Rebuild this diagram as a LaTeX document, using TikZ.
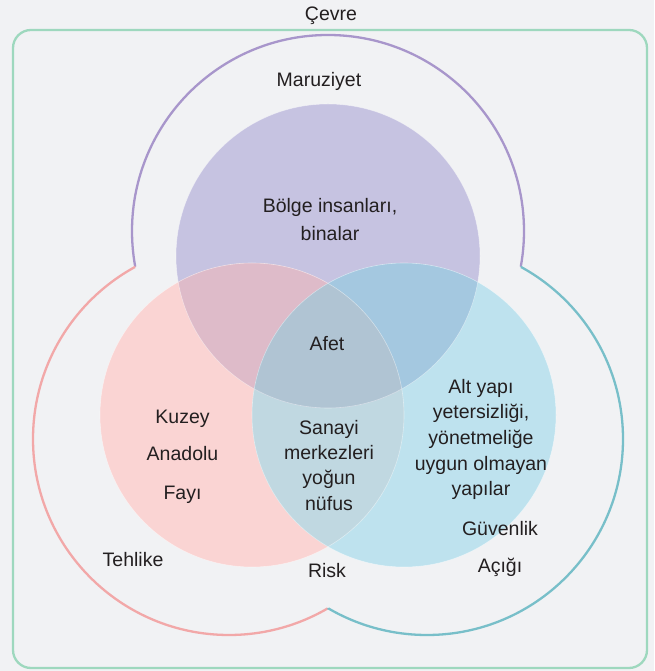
\documentclass[tikz,border=0pt]{standalone}
\usepackage{fontspec}
\setmainfont{Liberation Sans}
\definecolor{bg}{HTML}{F1F2F4}
\definecolor{rectc}{HTML}{9ED8BE}
\definecolor{purl}{HTML}{A896CB}
\definecolor{pinkl}{HTML}{F2A8A8}
\definecolor{bluel}{HTML}{78BFC9}
\definecolor{pu}{HTML}{C6C3E1}
\definecolor{pk}{HTML}{FAD4D3}
\definecolor{bl}{HTML}{BEE2EE}
\definecolor{pupk}{HTML}{DEBBC9}
\definecolor{publ}{HTML}{A4C8E0}
\definecolor{pkbl}{HTML}{C0D8E1}
\definecolor{allc}{HTML}{B0C4D3}
\definecolor{txt}{HTML}{231F20}
\begin{document}
\begin{tikzpicture}[x=1pt,y=1pt,
  lbl/.style={inner sep=0pt, anchor=base, text=txt, font=\fontsize{19.5}{23}\selectfont},
  outline/.style={line width=2.3pt},
  edgeline/.style={draw=white, draw opacity=0.45, line width=0.6pt}]
\fill[bg] (0,0) rectangle (654,671);
\useasboundingbox (0,0) rectangle (654,671);
% frame
\draw[rectc, outline, rounded corners=18pt] (13,3) rectangle (647,641);
% centres
\coordinate (cpo) at (328,440);
\coordinate (cko) at (229,232);
\coordinate (cbo) at (427,232);
\coordinate (cp) at (328,415);
\coordinate (ck) at (252,256);
\coordinate (cb) at (404,256);
% outer union outline
\begin{scope}[even odd rule]
  \clip (0,0) rectangle (654,671) (cko) circle[radius=196];
  \clip (0,0) rectangle (654,671) (cbo) circle[radius=196];
  \draw[purl, outline] (cpo) circle[radius=196];
\end{scope}
\begin{scope}[even odd rule]
  \clip (0,0) rectangle (654,671) (cpo) circle[radius=196];
  \clip (0,0) rectangle (654,671) (cbo) circle[radius=196];
  \draw[pinkl, outline] (cko) circle[radius=196];
\end{scope}
\begin{scope}[even odd rule]
  \clip (0,0) rectangle (654,671) (cpo) circle[radius=196];
  \clip (0,0) rectangle (654,671) (cko) circle[radius=196];
  \draw[bluel, outline] (cbo) circle[radius=196];
\end{scope}
% inner circles
\fill[pu] (cp) circle[radius=152];
\fill[pk] (ck) circle[radius=152];
\fill[bl] (cb) circle[radius=152];
\begin{scope}
  \clip (ck) circle[radius=152];
  \fill[pkbl] (cb) circle[radius=152];
\end{scope}
\begin{scope}
  \clip (cp) circle[radius=152];
  \fill[pupk] (ck) circle[radius=152];
  \fill[publ] (cb) circle[radius=152];
  \clip (ck) circle[radius=152];
  \fill[allc] (cb) circle[radius=152];
\end{scope}
\path[edgeline] (cp) circle[radius=152];
\path[edgeline] (ck) circle[radius=152];
\path[edgeline] (cb) circle[radius=152];
% labels
\node[lbl] (cevre) at (331,650) {Çevre};
\node[lbl] (maruz) at (319,584) {Maruziyet};
\node[lbl] (bolge1) at (330,458.5) {Bölge insanları,};
\node[lbl] (bolge2) at (330,430) {binalar};
\node[lbl] (afet) at (327,320) {Afet};
\node[lbl] (kuz1) at (182.5,247.7) {Kuzey};
\node[lbl] (kuz2) at (182.5,210) {Anadolu};
\node[lbl] (kuz3) at (182.5,171.7) {Fayı};
\node[lbl] (san1) at (329,236) {Sanayi};
\node[lbl] (san2) at (329,211) {merkezleri};
\node[lbl] (san3) at (329,186) {yoğun};
\node[lbl] (san4) at (329,160.5) {nüfus};
\node[lbl] (alt1) at (481,277.7) {Alt yapı};
\node[lbl] (alt2) at (481,252.3) {yetersizliği,};
\node[lbl] (alt3) at (481,226.7) {yönetmeliğe};
\node[lbl] (alt4) at (481,200.7) {uygun olmayan};
\node[lbl] (alt5) at (481,175.7) {yapılar};
\node[lbl] (guv1) at (500,135.7) {Güvenlik};
\node[lbl] (guv2) at (500,98.3) {Açığı};
\node[lbl] (tehl) at (133,104.3) {Tehlike};
\node[lbl] (risk) at (327,93.3) {Risk};
\end{tikzpicture}
\end{document}
